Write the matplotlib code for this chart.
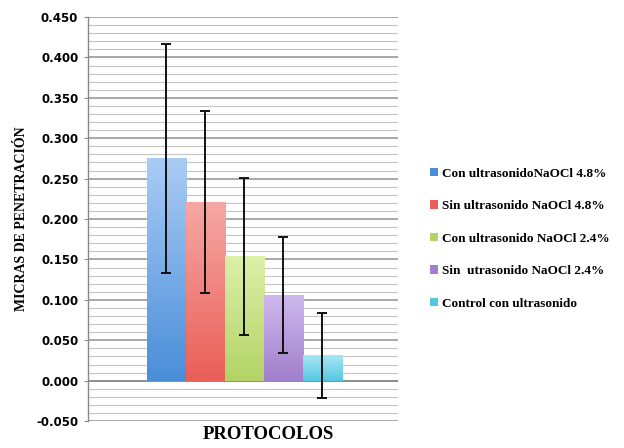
import numpy as np
import matplotlib
matplotlib.use("Agg")
import matplotlib.pyplot as plt
from matplotlib.patches import Patch
from matplotlib.colors import LinearSegmentedColormap

# protocol means and error bars
protocolos = ["Con ultrasonidoNaOCl 4.8%", "Sin ultrasonido NaOCl 4.8%",
              "Con ultrasonido NaOCl 2.4%", "Sin  utrasonido NaOCl 2.4%",
              "Control con ultrasonido"]
medias = [0.275, 0.221, 0.154, 0.106, 0.031]
errores = [0.142, 0.113, 0.097, 0.072, 0.053]
colores = ["#4a8ed9", "#ea5f58", "#b3d366", "#a07fcb", "#55c8e0"]
claros = ["#a9ccf5", "#f6a7a3", "#dcf0a8", "#cfb8ee", "#a8e6f4"]

yticks = np.arange(-0.05, 0.4501, 0.05)

fig = plt.figure(figsize=(6.24, 4.48), dpi=100)
ax = fig.add_axes([0.141, 0.060, 0.497, 0.902])

x = np.arange(len(medias))
bars = ax.bar(x, medias, width=1.0, color=colores, zorder=3)

# vertical gradient inside each bar
for b, c_top, c_bot in zip(bars, claros, colores):
    cmap = LinearSegmentedColormap.from_list("g", [c_bot, c_top])
    grad = np.linspace(0, 1, 100).reshape(-1, 1)
    ax.imshow(grad, cmap=cmap, origin="lower", aspect="auto", zorder=3,
              extent=(b.get_x(), b.get_x() + b.get_width(), 0, b.get_height()))
    b.set_alpha(0)

ax.errorbar(x, medias, yerr=errores, fmt="none", ecolor="#111111",
            elinewidth=1.4, capsize=3.5, capthick=1.4, zorder=5)

ax.set_xlim(-2.01, 5.94)
ax.set_ylim(-0.05, 0.45)
ax.set_yticks(yticks)
ax.set_yticklabels([f"{v:.3f}" for v in yticks], fontsize=8.5, fontweight="bold",
                   family="DejaVu Sans")
ax.set_yticks(np.arange(-0.05, 0.4501, 0.01), minor=True)
ax.tick_params(axis="y", which="major", length=3, color="#888888", pad=4)
ax.tick_params(axis="y", which="minor", length=0)
ax.set_xticks([])

ax.grid(axis="y", which="minor", color="#c4c4c4", linewidth=0.8, zorder=0)
ax.grid(axis="y", which="major", color="#9a9a9a", linewidth=1.2, zorder=0)
ax.axhline(0, color="#8a8a8a", linewidth=1.2, zorder=1)
ax.set_axisbelow(True)

for s in ["top", "right", "bottom"]:
    ax.spines[s].set_visible(False)
ax.spines["left"].set_color("#888888")
ax.spines["left"].set_linewidth(1.0)

ax.set_ylabel("MICRAS DE PENETRACIÓN", fontsize=10, fontweight="bold",
              family="Liberation Serif", labelpad=6)
ax.set_xlabel("PROTOCOLOS", fontsize=13.5, fontweight="bold",
              family="Liberation Serif")
ax.xaxis.set_label_coords(0.58, -0.012)

handles = [Patch(facecolor=c, edgecolor="none") for c in colores]
fig.legend(handles, protocolos, loc="upper left", bbox_to_anchor=(0.67, 0.652),
           frameon=False, handlelength=0.6, handleheight=0.6, handletextpad=0.3,
           labelspacing=1.55, prop={"family": "Liberation Serif", "weight": "bold",
                                    "size": 9.5})

fig.savefig("out.png", dpi=100)
